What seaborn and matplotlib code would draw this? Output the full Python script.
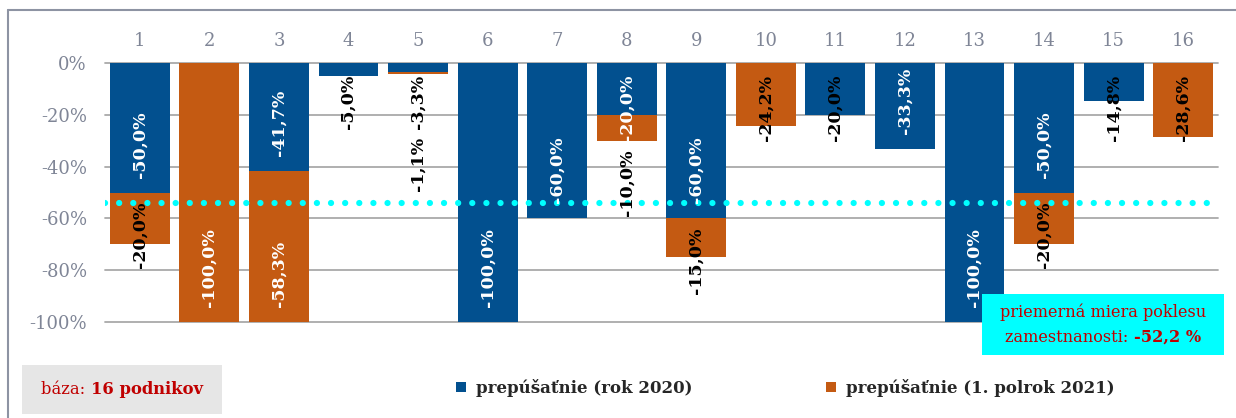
import matplotlib
matplotlib.use("Agg")
import matplotlib.pyplot as plt
import seaborn as sns
import pandas as pd
from matplotlib.patches import Rectangle
from matplotlib.lines import Line2D

# ---- data ----
categories = [str(i) for i in range(1, 17)]
layoffs_2020 = [-50.0, 0.0, -41.7, -5.0, -3.3, -100.0, -60.0, -20.0, -60.0, 0.0, -20.0, -33.3, -100.0, -50.0, -14.8, 0.0]
layoffs_2021 = [-20.0, -100.0, -58.3, 0.0, -1.1, 0.0, 0.0, -10.0, -15.0, -24.2, 0.0, 0.0, 0.0, -20.0, 0.0, -28.6]
series_names = ["prepúšaťnie (rok 2020)", "prepúšaťnie (1. polrok 2021)"]
avg_line_value = -54.0
avg_text_1 = "priemerná miera poklesu"
avg_text_2a = "zamestnanosti: "
avg_text_2b = "-52,2 %"
base_text_a = "báza: "
base_text_b = "16 podnikov"
yticks = [0, -20, -40, -60, -80, -100]
ytick_labels = [f"{v}%" for v in yticks]

BLUE = "#02508f"
ORANGE = "#c45a12"
DARKRED = "#c00000"
GRAY_TXT = "#7f8596"
CYAN = "#00ffff"

sns.set_theme(style="white")
plt.rcParams["font.family"] = ["DejaVu Serif", "DejaVu Sans"]

W, H = 1236, 418
fig = plt.figure(figsize=(W / 100, H / 100), dpi=100)
fig.patch.set_facecolor("white")

def fx(px):
    return px / W

def fy(py):
    return 1 - py / H

ax = fig.add_axes([fx(105), fy(322), fx(1218) - fx(105), fy(63) - fy(322)])

df = pd.DataFrame({"cat": categories, "a": layoffs_2020, "b": layoffs_2021})
sns.barplot(data=df, x="cat", y="a", order=categories, color=BLUE, saturation=1,
            width=0.86, errorbar=None, linewidth=0, label=series_names[0], ax=ax)
sns.barplot(data=df, x="cat", y="b", order=categories, color=ORANGE, saturation=1,
            width=0.86, errorbar=None, linewidth=0, bottom=layoffs_2020,
            label=series_names[1], ax=ax)
if ax.get_legend() is not None:
    ax.get_legend().remove()

ax.set_ylim(-100, 0)
ax.set_xlim(-0.5, len(categories) - 0.5)
ax.set_yticks(yticks)
ax.set_yticklabels(ytick_labels)
ax.set_xlabel("")
ax.set_ylabel("")
ax.xaxis.tick_top()
ax.tick_params(axis="x", length=0, pad=9, labelsize=13, labelcolor=GRAY_TXT)
ax.tick_params(axis="y", length=0, pad=13, labelsize=13, labelcolor=GRAY_TXT)
for s in ax.spines.values():
    s.set_visible(False)
ax.set_axisbelow(True)
ax.yaxis.grid(True, color="#a9a9a9", linewidth=1.3)
for gl in ax.get_ygridlines():
    gl.set_clip_on(False)

# average dotted line
ax.axhline(avg_line_value, xmin=0.0, xmax=0.995, color=CYAN, linewidth=4.5,
           linestyle=(0, (0.01, 2.25)), dash_capstyle="round", zorder=5)

# ---- data labels ----
fig.canvas.draw()
renderer = fig.canvas.get_renderer()
inv = ax.transData.inverted()
for i in range(len(categories)):
    segs = [(0, layoffs_2020[i], 0.0), (1, layoffs_2021[i], layoffs_2020[i])]
    prev_bottom = None
    for s, v, base in segs:
        if v == 0:
            continue
        other = layoffs_2021[i] if s == 0 else layoffs_2020[i]
        white = abs(v) >= 30 or (s == 0 and other != 0 and abs(v) >= 20)
        txt = f"{v:.1f}%".replace(".", ",")
        base_d = ax.transData.transform((i, base))[1]
        end_d = ax.transData.transform((i, base + v))[1]
        if white and abs(v) >= 30:
            yd = end_d + 15
            va = "bottom"
        else:
            yd = base_d - (12 if base == 0 else 9)
            if prev_bottom is not None:
                yd = min(yd, prev_bottom - 8)
            va = "top"
        ydata = inv.transform((0, yd))[1]
        t = ax.text(i, ydata, txt, rotation=90, ha="center", va=va,
                    fontsize=12.5, fontweight="bold",
                    color="white" if white else "black", zorder=6, clip_on=False)
        prev_bottom = t.get_window_extent(renderer).y0

# ---- frame lines ----
fig.add_artist(Line2D([fx(8), fx(8)], [fy(10), 0], color="#8d93a3", linewidth=1.5))
fig.add_artist(Line2D([fx(8), 1], [fy(10), fy(10)], color="#8d93a3", linewidth=1.5))

# ---- helper for mixed-weight centered text ----
def mixed_text(cx, cy, part_a, part_b, size, color):
    ta = fig.text(0, fy(cy), part_a, fontsize=size, color=color, va="center", ha="left")
    tb = fig.text(0, fy(cy), part_b, fontsize=size, color=color, va="center", ha="left",
                  fontweight="bold")
    wa = ta.get_window_extent(renderer).width
    wb = tb.get_window_extent(renderer).width
    start = cx - (wa + wb) / 2
    ta.set_x(fx(start))
    tb.set_x(fx(start + wa))

# base box
fig.patches.append(Rectangle((fx(22), fy(414)), fx(222) - fx(22), fy(365) - fy(414),
                             transform=fig.transFigure, facecolor="#e6e6e6",
                             edgecolor="none", zorder=0))
mixed_text(122, 389, base_text_a, base_text_b, 11.8, DARKRED)

# average box
fig.patches.append(Rectangle((fx(982), fy(355)), fx(1224) - fx(982), fy(294) - fy(355),
                             transform=fig.transFigure, facecolor=CYAN,
                             edgecolor="none", zorder=10))
fig.text(fx(1103), fy(312), avg_text_1, fontsize=11.6, color=DARKRED,
         ha="center", va="center", zorder=11)
mixed_text(1103, 337, avg_text_2a, avg_text_2b, 11.6, DARKRED)
for t in fig.texts:
    t.set_zorder(11)

# legend
handles, labels = ax.get_legend_handles_labels()
fig.legend(handles, labels, loc="center", bbox_to_anchor=(fx(785), fy(388)),
           bbox_transform=fig.transFigure, ncol=2, frameon=False,
           prop={"weight": "bold", "size": 12.0}, handlelength=0.6, handleheight=0.6,
           handletextpad=0.6, columnspacing=8.0)

fig.savefig("out.png", dpi=100)
